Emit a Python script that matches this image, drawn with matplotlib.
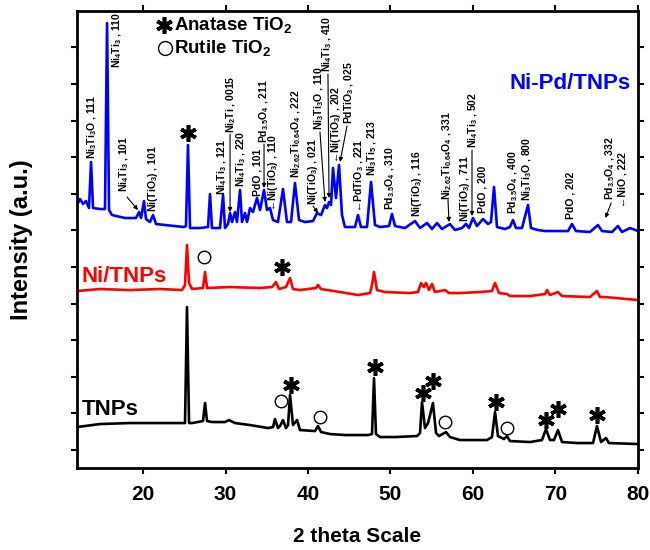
import numpy as np
import matplotlib
matplotlib.use('Agg')
import matplotlib.pyplot as plt

plt.rcParams['font.family'] = ['Liberation Sans', 'DejaVu Sans']
plt.rcParams['font.weight'] = 'bold'
plt.rcParams['axes.labelweight'] = 'bold'
plt.rcParams['mathtext.fontset'] = 'custom'
plt.rcParams['mathtext.rm'] = 'Liberation Sans:bold'
plt.rcParams['mathtext.bf'] = 'Liberation Sans:bold'
plt.rcParams['mathtext.default'] = 'rm'

# XRD traces: (2 theta, intensity a.u.)
nipd_pts = [
    (12.00, 263), (12.36, 269), (12.73, 264), (13.09, 267), (13.45, 260), (13.70, 306),
    (13.94, 260), (14.79, 259), (15.39, 259), (15.64, 445), (15.88, 258), (16.24, 253),
    (17.82, 250), (19.15, 250), (19.52, 256), (19.76, 250), (20.12, 267), (20.36, 249),
    (20.85, 246), (21.21, 253), (21.58, 244), (22.67, 243), (24.97, 241), (25.21, 242),
    (25.45, 323), (25.70, 240), (26.91, 240), (27.88, 241), (28.12, 274), (28.36, 240),
    (29.33, 240), (29.70, 273), (29.94, 240), (30.30, 244), (30.55, 255), (30.79, 246),
    (31.15, 256), (31.39, 246), (31.76, 278), (32.00, 246), (32.36, 255), (32.61, 246),
    (32.97, 260), (33.33, 256), (33.82, 270), (34.18, 258), (34.67, 278), (35.03, 258),
    (35.39, 260), (35.76, 248), (36.36, 246), (36.97, 279), (37.45, 246), (37.94, 246),
    (38.42, 285), (38.91, 248), (39.64, 246), (40.61, 247), (41.09, 255), (41.58, 253),
    (42.06, 263), (42.30, 260), (42.55, 266), (42.79, 263), (43.03, 300), (43.39, 270),
    (43.76, 303), (44.12, 253), (44.48, 241), (45.70, 241), (46.06, 253), (46.42, 241),
    (47.15, 241), (47.64, 286), (48.12, 243), (48.73, 241), (49.82, 242), (50.18, 254),
    (50.55, 242), (51.76, 240), (52.97, 247), (53.58, 240), (54.42, 245), (55.03, 239),
    (55.64, 245), (56.24, 239), (57.21, 244), (57.82, 238), (58.67, 240), (59.15, 244),
    (59.52, 240), (60.00, 250), (60.48, 242), (61.21, 249), (61.82, 244), (62.18, 246),
    (62.55, 281), (62.91, 241), (63.88, 239), (64.48, 241), (64.85, 248), (65.21, 240),
    (65.94, 240), (66.67, 263), (67.03, 240), (67.88, 238), (68.73, 237), (70.55, 237),
    (71.52, 237), (72.00, 244), (72.48, 237), (74.18, 236), (75.15, 243), (75.64, 237),
    (76.85, 236), (77.58, 242), (78.06, 236), (79.03, 240), (80.00, 237),
]
ni_pts = [
    (12.00, 177), (14.79, 179), (18.42, 178), (22.06, 179), (24.73, 178), (25.09, 183),
    (25.33, 223), (25.58, 185), (25.94, 179), (27.27, 180), (27.52, 196), (27.76, 180),
    (30.55, 181), (34.18, 180), (35.64, 181), (36.12, 186), (36.48, 179), (37.33, 181),
    (37.82, 190), (38.18, 179), (39.03, 178), (40.97, 180), (41.21, 183), (41.58, 179),
    (43.88, 176), (46.06, 173), (47.52, 175), (47.76, 183), (48.00, 196), (48.36, 178),
    (49.33, 176), (52.36, 175), (53.33, 176), (53.70, 185), (54.06, 181), (54.30, 185),
    (54.67, 178), (55.03, 184), (55.39, 176), (56.61, 178), (57.09, 175), (58.42, 175),
    (60.85, 176), (62.30, 177), (62.67, 185), (63.15, 175), (64.12, 174), (64.48, 172),
    (66.91, 172), (68.73, 174), (68.97, 178), (69.33, 173), (70.30, 176), (70.79, 172),
    (74.18, 171), (75.03, 177), (75.39, 171), (76.00, 171), (80.00, 168),
]
tnp_pts = [
    (12.00, 41), (14.79, 44), (18.42, 45), (24.30, 45), (25.09, 45), (25.33, 161),
    (25.58, 45), (25.94, 45), (27.27, 47), (27.52, 65), (27.76, 47), (28.36, 46),
    (29.94, 46), (30.42, 48), (31.15, 45), (32.97, 43), (35.15, 40), (35.76, 41),
    (36.00, 49), (36.36, 40), (36.61, 42), (36.97, 48), (37.33, 40), (37.58, 43),
    (37.82, 73), (38.18, 43), (38.67, 48), (39.03, 38), (40.85, 37), (41.21, 42),
    (41.58, 36), (42.67, 34), (44.48, 33), (47.27, 33), (47.76, 34), (48.00, 90),
    (48.24, 34), (48.73, 31), (50.55, 31), (53.21, 32), (53.58, 35), (53.82, 66),
    (54.18, 40), (54.55, 45), (55.15, 65), (55.52, 35), (55.88, 32), (56.73, 36),
    (57.21, 31), (58.42, 28), (61.70, 28), (62.30, 31), (62.67, 56), (63.03, 32),
    (63.76, 29), (64.12, 32), (64.48, 27), (66.91, 26), (68.36, 28), (68.85, 39),
    (69.33, 28), (69.82, 28), (70.30, 38), (70.79, 26), (72.61, 25), (74.55, 25),
    (75.03, 42), (75.52, 26), (76.12, 30), (76.48, 25), (80.00, 24),
]

# phase markers
anatase_pts = [(25.45, 335), (36.85, 201), (37.94, 83), (48.12, 101), (53.94, 75),
               (55.15, 87), (62.79, 66), (68.85, 48), (70.30, 59), (75.03, 53)]
rutile_pts = [(27.39, 211), (36.73, 67), (41.45, 51), (56.61, 46), (64.12, 40)]

# peak labels: text, x, y of text foot, optional arrow (x0, y0, x1, y1)
peak_labels = [
    (r'Ni$_3$Ti$_3$O , 111', 13.88, 309, None),
    (r'Ni$_4$Ti$_3$ , 110', 16.91, 400, None),
    (r'Ni$_4$Ti$_3$ , 101', 17.70, 276, (18.06, 271, 19.39, 258)),
    (r'Ni(TiO$_3$) , 101', 21.15, 256, None),
    (r'Ni$_4$Ti$_3$ , 121', 29.64, 273, None),
    (r'Ni$_2$Ti , 0015', 30.67, 335, (30.55, 334, 30.55, 256)),
    (r'Ni$_4$Ti$_3$ , 220', 31.88, 281, None),
    (r'PdO , 101', 33.88, 272, None),
    (r'Pd$_{3.5}$O$_4$ , 211', 34.67, 325, (34.67, 324, 34.67, 280)),
    (r'←Ni(TiO$_3$) , 110', 35.70, 257, None),
    (r'Ni$_{2.62}$Ti$_{0.64}$O$_4$ , 222', 38.55, 290, None),
    (r'Ni(TiO$_3$) , 021', 40.61, 263, (40.61, 262, 41.21, 255)),
    (r'Ni$_3$Ti$_3$O , 110', 41.33, 338, (41.45, 336, 42.06, 266)),
    (r'Ni$_4$Ti$_3$ , 410', 42.36, 396, (42.42, 394, 42.55, 270)),
    (r'←Ni(TiO$_3$) , 202', 43.39, 305, None),
    (r'PdTiO$_3$ , 025', 44.97, 344, (44.73, 342, 43.88, 306)),
    (r'←PdTiO$_3$ , 221', 46.18, 256, None),
    (r'Ni$_3$Ti$_5$ , 213', 47.76, 292, None),
    (r'Pd$_{3.5}$O$_4$ , 310', 49.94, 258, None),
    (r'Ni(TiO$_3$) , 116', 53.27, 251, None),
    (r'Ni$_{2.62}$Ti$_{0.64}$O$_4$ , 331', 56.91, 268, (56.97, 268, 57.09, 246)),
    (r'Ni(TiO$_3$) , 711', 59.03, 246, None),
    (r'Ni$_4$Ti$_3$ , 502', 60.00, 320, (59.88, 318, 59.88, 252)),
    (r'PdO , 200', 61.15, 255, None),
    (r'Pd$_{3.5}$O$_4$ , 400', 64.91, 254, None),
    (r'Ni$_3$Ti$_3$O , 800', 66.61, 267, None),
    (r'PdO , 202', 71.88, 249, None),
    (r'Pd$_{3.5}$O$_4$ , 332', 76.60, 268, (76.75, 265, 76.05, 250)),
    (r'←NiO , 222', 78.15, 261, None),
]

fig = plt.figure(figsize=(6.5, 5.5), dpi=100)
ax = fig.add_axes([0.1185, 0.149, 0.863, 0.831])

for pts, col in [(tnp_pts, 'black'), (ni_pts, '#ff0000'), (nipd_pts, '#0000ff')]:
    xs, ys = np.array(pts).T
    ax.plot(xs, ys, color=col, lw=1.9, solid_joinstyle='round')

ax_x, ax_y = np.array(anatase_pts).T
ax.plot(ax_x, ax_y, ls='none', marker=(6, 2, 0), ms=12, mew=2.6, color='black')
ru_x, ru_y = np.array(rutile_pts).T
ax.plot(ru_x, ru_y, ls='none', marker='o', ms=9, mfc='none', mec='black', mew=1)

for txt, x, y, arr in peak_labels:
    ax.text(x, y, txt, rotation=90, ha='center', va='bottom', fontsize=7.5)
    if arr:
        ax.annotate('', xy=(arr[2], arr[3]), xytext=(arr[0], arr[1]),
                    arrowprops=dict(arrowstyle='-|>', lw=0.8, color='black',
                                    mutation_scale=6, shrinkA=0, shrinkB=0))

# legend
ax.plot([22.55], [443], ls='none', marker=(6, 2, 0), ms=12, mew=2.6, color='black')
ax.plot([22.67], [420], ls='none', marker='o', ms=10, mfc='none', mec='black', mew=1)
ax.text(23.8, 443, r'Anatase TiO$_2$', fontsize=13.5, va='center')
ax.text(23.8, 420, r'Rutile TiO$_2$', fontsize=13.5, va='center')

ax.text(79.15, 385, 'Ni-Pd/TNPs', color='#0000ff', fontsize=16, ha='right', va='center')
ax.text(12.6, 192, 'Ni/TNPs', color='#ff0000', fontsize=16, va='center')
ax.text(12.6, 59, 'TNPs', color='black', fontsize=16, va='center')

ax.set_xlim(12, 80)
ax.set_ylim(0, 457)
ax.set_xticks(np.arange(20, 81, 10))
ax.set_yticks(np.arange(18, 450, 36.6))
ax.set_yticklabels([])
ax.tick_params(direction='out', length=4, width=1.5, top=True, right=True,
               labelsize=15, pad=8)
for s in ax.spines.values():
    s.set_linewidth(2)

ax.set_xlabel('2 theta Scale', fontsize=15, labelpad=17)
ax.set_ylabel('Intensity (a.u.)', fontsize=17, labelpad=20)

fig.savefig('out.png', dpi=100)
